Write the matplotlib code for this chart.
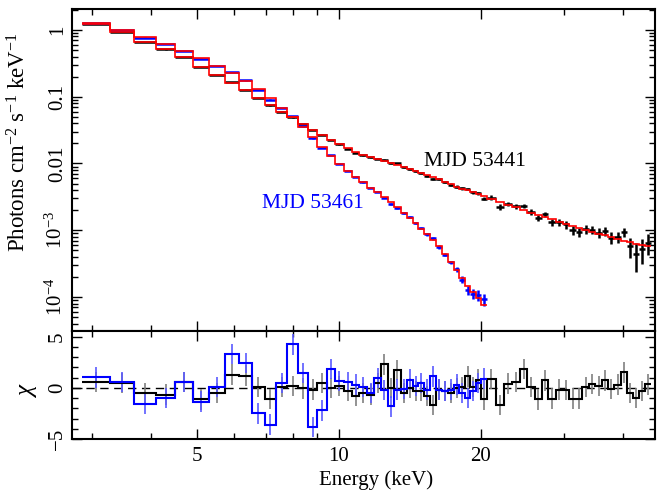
import numpy as np
import matplotlib
matplotlib.use("Agg")
import matplotlib.pyplot as plt

plt.rcParams['font.family'] = ['Liberation Serif', 'DejaVu Serif']
plt.rcParams['mathtext.fontset'] = 'custom'
plt.rcParams['mathtext.rm'] = 'Liberation Serif'
plt.rcParams['mathtext.it'] = 'Liberation Serif:italic'
plt.rcParams['font.size'] = 15

# ---------------- data ----------------
# channel energy edges (keV)
energy_edges = [2.86, 3.27, 3.68, 4.09, 4.50, 4.91, 5.32, 5.73, 6.14, 6.55,
                6.96, 7.37, 7.78, 8.19, 8.60, 9.01, 9.42, 9.83, 10.24, 10.65,
                11.06, 11.47, 11.88, 12.29, 12.70, 13.11, 13.52, 13.93, 14.34, 14.75,
                15.16, 15.57, 16.06, 16.55, 17.04, 17.53, 18.02, 18.51, 19.00, 19.49,
                19.98, 20.6, 21.5, 22.4, 23.3, 24.2, 25.1, 26.0, 26.9, 27.8,
                28.8, 29.8, 30.8, 31.8, 32.8, 33.9, 35.0, 36.1, 37.2, 38.4,
                39.6, 40.8, 42.0, 43.2, 44.6, 46.0]

# log10 of model flux (photons cm^-2 s^-1 keV^-1), MJD 53441
model_53441_log = [0.090, -0.034, -0.175, -0.289, -0.409, -0.550, -0.674, -0.789, -0.899, -1.014,
                   -1.124, -1.224, -1.308, -1.408, -1.498, -1.573, -1.648, -1.715, -1.775, -1.835,
                   -1.873, -1.903, -1.933, -1.963, -1.993, -2.022, -2.052, -2.082, -2.112, -2.142,
                   -2.172, -2.202, -2.232, -2.270, -2.307, -2.345, -2.375, -2.404, -2.434, -2.464,
                   -2.494, -2.539, -2.584, -2.622, -2.659, -2.697, -2.734, -2.764, -2.794, -2.831,
                   -2.869, -2.899, -2.929, -2.959, -2.989, -3.019, -3.049, -3.071, -3.101, -3.131,
                   -3.154, -3.176, -3.199, -3.221, -3.243]

# log10 of model flux, MJD 53461
model_53461_log = [0.100, 0.000, -0.109, -0.210, -0.315, -0.424, -0.539, -0.644, -0.764, -0.888,
                   -1.023, -1.173, -1.308, -1.453, -1.603, -1.757, -1.888, -2.007, -2.112, -2.202,
                   -2.277, -2.360, -2.434, -2.509, -2.577, -2.659, -2.734, -2.809, -2.891, -2.974,
                   -3.056, -3.146, -3.243, -3.356, -3.476, -3.596, -3.715, -3.835, -3.925, -4.015,
                   -4.120]

# relative 1-sigma errors of the data
relerr_53441 = [0.008, 0.008, 0.008, 0.008, 0.008, 0.008, 0.008, 0.008, 0.008, 0.008,
                0.012, 0.012, 0.012, 0.012, 0.012, 0.012, 0.012, 0.012, 0.012, 0.012,
                0.02, 0.02, 0.02, 0.02, 0.02, 0.03, 0.03, 0.03, 0.03, 0.03,
                0.04, 0.04, 0.04, 0.04, 0.04, 0.05, 0.05, 0.05, 0.05, 0.05,
                0.06, 0.08, 0.08, 0.08, 0.08, 0.08, 0.10, 0.10, 0.10, 0.10,
                0.12, 0.14, 0.14, 0.14, 0.16, 0.16, 0.18, 0.18, 0.20, 0.20,
                0.22, 0.28, 0.32, 0.36, 0.40]
relerr_53461 = [0.008, 0.008, 0.008, 0.008, 0.008, 0.008, 0.008, 0.008, 0.008, 0.008,
                0.012, 0.012, 0.012, 0.012, 0.012, 0.012, 0.012, 0.02, 0.02, 0.02,
                0.02, 0.02, 0.02, 0.02, 0.035, 0.035, 0.035, 0.035, 0.035, 0.035,
                0.06, 0.06, 0.06, 0.06, 0.06, 0.09, 0.11, 0.14, 0.17, 0.20,
                0.25]

# residuals (chi)
chi_53441 = [0.55, 0.48, -0.48, -0.65, 0.58, -1.13, -0.48, 1.29, 1.19, 0.06,
             -1.1, 0.06, 0.16, -0.06, -0.16, 0.48, 0.0, 0.16, -0.3, -0.8,
             -0.48, -0.65, 0.48, 2.3, 0.0, 1.77, -0.48, 0.0, -0.3, -0.3,
             -0.8, -1.7, -0.16, -0.3, -0.48, 0.0, 0.1, 1.13, 0.1, 0.8,
             -1.13, 0.85, -1.7, 0.42, 0.55, 1.87, 0.1, -1.13, 0.74, -1.06,
             -0.16, -0.23, -1.06, -1.06, 0.1, 0.4, 0.16, 0.74, -0.1, 0.32,
             1.52, -0.5, -0.97, -0.32, 0.35]
chi_53461 = [1.03, 0.55, -1.6, -0.97, 0.58, -1.35, 0.06, 3.3, 2.45, -2.5,
             -3.6, 0.48, 4.26, 1.45, -3.8, -2.2, 1.84, 0.65, 0.55, 0.32,
             0.1, -0.48, 0.97, -0.2, -1.8, -0.16, -0.1, 0.8, 0.16, 0.48,
             -0.16, 1.13, -0.16, -0.32, -0.16, 0.32, -0.5, -0.97, -0.3, 0.5,
             0.9]

labels_series = ["MJD 53441", "MJD 53461"]
xtick_major = [5, 10, 20]
xtick_minor = [3, 4, 6, 7, 8, 9, 30, 40]
ytick_top = [1e-4, 1e-3, 1e-2, 1e-1, 1]
ytick_top_labels = [r"$10^{-4}$", r"$10^{-3}$", "0.01", "0.1", "1"]

# ---------------- derived ----------------
edges_a = np.array(energy_edges)
n_b = len(model_53461_log)
edges_b = edges_a[:n_b + 1]
cen_a = 0.5 * (edges_a[:-1] + edges_a[1:])
hw_a = 0.5 * (edges_a[1:] - edges_a[:-1])
cen_b = cen_a[:n_b]
hw_b = hw_a[:n_b]

mod_a = 10 ** np.array(model_53441_log)
mod_b = 10 ** np.array(model_53461_log)
err_a = mod_a * np.array(relerr_53441)
err_b = mod_b * np.array(relerr_53461)
dat_a = mod_a + np.array(chi_53441) * err_a
dat_b = mod_b + np.array(chi_53461) * err_b

# ---------------- figure ----------------
fig = plt.figure(figsize=(6.62, 4.92), dpi=100)
ax1 = fig.add_axes([0.10876, 0.32724, 0.8807, 0.65447])
ax2 = fig.add_axes([0.10876, 0.10772, 0.8807, 0.21951])

# top panel
ax1.errorbar(cen_a, dat_a, xerr=hw_a, yerr=err_a, fmt='none', ecolor='black',
             elinewidth=1.8, capsize=0, zorder=2)
ax1.errorbar(cen_b, dat_b, xerr=hw_b, yerr=err_b, fmt='none', ecolor='#0000ff',
             elinewidth=1.8, capsize=0, zorder=2)
ax1.stairs(mod_a, edges_a, baseline=None, color='#ff0000', lw=1.2, zorder=3)
ax1.stairs(mod_b, edges_b, baseline=None, color='#ff0000', lw=1.2, zorder=3)

ax1.set_xscale('log')
ax1.set_yscale('log')
ax1.set_xlim(2.72, 46.8)
ax1.set_ylim(3.1e-5, 2.06)

ax1.text(0.691, 0.525, labels_series[0], transform=ax1.transAxes, color='black',
         ha='center', va='center', fontsize=15.5)
ax1.text(0.413, 0.397, labels_series[1], transform=ax1.transAxes, color='#0000ff',
         ha='center', va='center', fontsize=15.5)

# bottom panel
ax2.axhline(0, color='black', lw=1.0, ls=(0, (6, 4)), zorder=1)
ax2.errorbar(cen_a, chi_53441, yerr=1, fmt='none', ecolor='#808080', elinewidth=1.2,
             capsize=0, zorder=2)
ax2.errorbar(cen_b, chi_53461, yerr=1, fmt='none', ecolor='#5a5aff', elinewidth=1.2,
             capsize=0, zorder=2)
ax2.stairs(chi_53441, edges_a, baseline=None, color='black', lw=1.5, zorder=3)
ax2.stairs(chi_53461, edges_b, baseline=None, color='#0000ff', lw=1.5, zorder=4)
ax2.set_xscale('log')
ax2.set_xlim(2.72, 46.8)
ax2.set_ylim(-4.92, 5.56)

for ax in (ax1, ax2):
    ax.set_xticks(xtick_major)
    ax.set_xticks(xtick_minor, minor=True)
    ax.tick_params(which='both', direction='in', top=True, right=True, width=1.0)
    ax.tick_params(which='major', length=7)
    ax.tick_params(which='minor', length=4)
    for s in ax.spines.values():
        s.set_linewidth(1.5)

ax1.set_xticklabels([])
ax1.set_xticklabels([], minor=True)
ax2.set_xticklabels([str(v) for v in xtick_major])
ax2.set_xticklabels([], minor=True)
ax2.tick_params(axis='x', which='major', pad=6)

ax1.set_yticks(ytick_top)
ax1.set_yticklabels(ytick_top_labels)
for lab in ax1.get_yticklabels():
    lab.set_rotation(90)
    lab.set_va('center')

ax2.set_yticks([-5, 0, 5])
ax2.set_yticks(list(range(-4, 6)), minor=True)
ax2.set_yticklabels(['\u22125', '0', '5'])
for lab in ax2.get_yticklabels():
    lab.set_rotation(90)
    lab.set_va('center')

fig.text(19 / 662, 1 - 142 / 492, r"Photons cm$^{-2}$ s$^{-1}$ keV$^{-1}$",
         rotation=90, ha='center', va='center', fontsize=16.5)
fig.text(28 / 662, 1 - 390 / 492, r"$\chi$", rotation=90, ha='center', va='center',
         fontsize=18)
fig.text(376 / 662, 1 - 480 / 492, "Energy (keV)", ha='center', va='center', fontsize=15)

fig.savefig("out.png", dpi=100)
